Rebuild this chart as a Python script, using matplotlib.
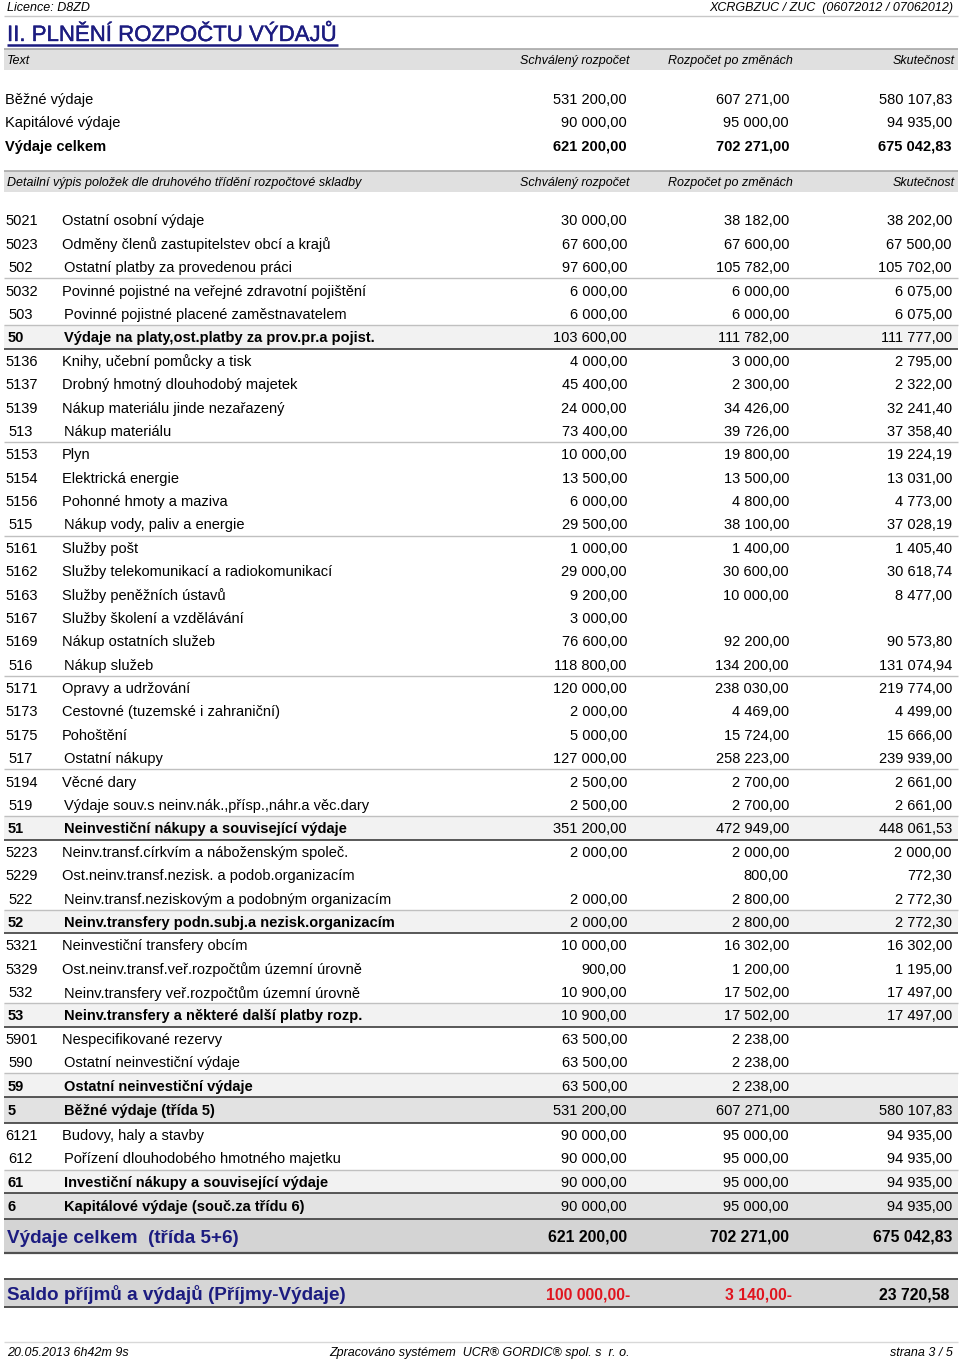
"""Plnění rozpočtu výdajů - table page recreated with matplotlib."""
import matplotlib
matplotlib.use("Agg")
import matplotlib.pyplot as plt
import matplotlib.patheffects as pe
from matplotlib.patches import Rectangle

plt.rcParams["font.family"] = ["Liberation Sans", "DejaVu Sans"]

# summary block
sum_labels = ["Běžné výdaje", "Kapitálové výdaje", "Výdaje celkem"]
sum_schval = [531200.00, 90000.00, 621200.00]
sum_zmeny = [607271.00, 95000.00, 702271.00]
sum_skut = [580107.83, 94935.00, 675042.83]

# detail rows: kind = item / sub / group / class (by code length)
codes = ["5021", "5023", "502", "5032", "503", "50",
         "5136", "5137", "5139", "513", "5153", "5154", "5156", "515",
         "5161", "5162", "5163", "5167", "5169", "516",
         "5171", "5173", "5175", "517", "5194", "519", "51",
         "5223", "5229", "522", "52", "5321", "5329", "532", "53",
         "5901", "590", "59", "5", "6121", "612", "61", "6"]
names = ["Ostatní osobní výdaje",
         "Odměny členů zastupitelstev obcí a krajů",
         "Ostatní platby za provedenou práci",
         "Povinné pojistné na veřejné zdravotní pojištění",
         "Povinné pojistné placené zaměstnavatelem",
         "Výdaje na platy,ost.platby za prov.pr.a pojist.",
         "Knihy, učební pomůcky a tisk",
         "Drobný hmotný dlouhodobý majetek",
         "Nákup materiálu jinde nezařazený",
         "Nákup materiálu",
         "Plyn",
         "Elektrická energie",
         "Pohonné hmoty a maziva",
         "Nákup vody, paliv a energie",
         "Služby pošt",
         "Služby telekomunikací a radiokomunikací",
         "Služby peněžních ústavů",
         "Služby školení a vzdělávání",
         "Nákup ostatních služeb",
         "Nákup služeb",
         "Opravy a udržování",
         "Cestovné (tuzemské i zahraniční)",
         "Pohoštění",
         "Ostatní nákupy",
         "Věcné dary",
         "Výdaje souv.s neinv.nák.,přísp.,náhr.a věc.dary",
         "Neinvestiční nákupy a související výdaje",
         "Neinv.transf.církvím a náboženským společ.",
         "Ost.neinv.transf.nezisk. a podob.organizacím",
         "Neinv.transf.neziskovým a podobným organizacím",
         "Neinv.transfery podn.subj.a nezisk.organizacím",
         "Neinvestiční transfery obcím",
         "Ost.neinv.transf.veř.rozpočtům územní úrovně",
         "Neinv.transfery veř.rozpočtům územní úrovně",
         "Neinv.transfery a některé další platby rozp.",
         "Nespecifikované rezervy",
         "Ostatní neinvestiční výdaje",
         "Ostatní neinvestiční výdaje",
         "Běžné výdaje (třída 5)",
         "Budovy, haly a stavby",
         "Pořízení dlouhodobého hmotného majetku",
         "Investiční nákupy a související výdaje",
         "Kapitálové výdaje (souč.za třídu 6)"]
schvaleny = [30000, 67600, 97600, 6000, 6000, 103600,
             4000, 45400, 24000, 73400, 10000, 13500, 6000, 29500,
             1000, 29000, 9200, 3000, 76600, 118800,
             120000, 2000, 5000, 127000, 2500, 2500, 351200,
             2000, None, 2000, 2000, 10000, 900, 10900, 10900,
             63500, 63500, 63500, 531200, 90000, 90000, 90000, 90000]
po_zmenach = [38182, 67600, 105782, 6000, 6000, 111782,
              3000, 2300, 34426, 39726, 19800, 13500, 4800, 38100,
              1400, 30600, 10000, None, 92200, 134200,
              238030, 4469, 15724, 258223, 2700, 2700, 472949,
              2000, 800, 2800, 2800, 16302, 1200, 17502, 17502,
              2238, 2238, 2238, 607271, 95000, 95000, 95000, 95000]
skutecnost = [38202, 67500, 105702, 6075, 6075, 111777,
              2795, 2322, 32241.40, 37358.40, 19224.19, 13031, 4773, 37028.19,
              1405.40, 30618.74, 8477, None, 90573.80, 131074.94,
              219774, 4499, 15666, 239939, 2661, 2661, 448061.53,
              2000, 772.30, 2772.30, 2772.30, 16302, 1195, 17497, 17497,
              None, None, None, 580107.83, 94935, 94935, 94935, 94935]

total_label = "Výdaje celkem  (třída 5+6)"
total_vals = [621200.00, 702271.00, 675042.83]
saldo_label = "Saldo příjmů a výdajů (Příjmy-Výdaje)"
saldo_vals = [-100000.00, -3140.00, 23720.58]


def kind_of(code):
    return {4: "item", 3: "sub", 2: "group", 1: "class"}[len(code)]


def fmt(v):
    if v is None:
        return ""
    s = f"{abs(v):,.2f}".replace(",", " ").replace(".", ",")
    return s + "-" if v < 0 else s


NAVY = "#1c1c80"
COLS = [627, 789, 952]
X0, X1 = 4, 958
DY = 1.5  # matplotlib centres a touch higher than the report

fig = plt.figure(figsize=(9.6, 13.61), dpi=100)
ax = fig.add_axes([0, 0, 1, 1])
ax.set_xlim(0, 960)
ax.set_ylim(1361, 0)
ax.axis("off")

# page header
ax.text(7, 7.5, "Licence: D8ZD", fontsize=9, style="italic", va="center")
ax.text(953, 7.5, "XCRGBZUC / ZUC  (06072012 / 07062012)", fontsize=9,
        style="italic", va="center", ha="right")
ax.hlines(16, X0, X1, color="#c8c8c8", lw=1)
title = ax.text(7, 35.5, "II. PLNĚNÍ ROZPOČTU VÝDAJŮ", fontsize=16,
                color=NAVY, va="center",
                path_effects=[pe.withStroke(linewidth=0.3, foreground=NAVY)])


def header_band(y0, y1, first):
    ax.add_patch(Rectangle((X0, y0), X1 - X0, y1 - y0, fc="#e0e0e0", ec="none"))
    ax.hlines(y0, X0, X1, color="#a8a8a8", lw=1.2)
    yc = (y0 + y1) / 2 + 1
    ax.text(7, yc, first, fontsize=9, style="italic", va="center")
    ax.text(630, yc, "Schválený rozpočet", fontsize=9, style="italic",
            va="center", ha="right")
    ax.text(668, yc, "Rozpočet po změnách", fontsize=9, style="italic",
            va="center")
    ax.text(955, yc, "Skutečnost", fontsize=9, style="italic",
            va="center", ha="right")


header_band(49, 70, "Text")

for i, lab in enumerate(sum_labels):
    y = 98 + i * 23.5 + DY
    w = "bold" if i == 2 else "normal"
    ax.text(5, y, lab, fontsize=10.5, va="center", weight=w)
    for x, v in zip(COLS, [sum_schval[i], sum_zmeny[i], sum_skut[i]]):
        ax.text(x, y, fmt(v), fontsize=10.5, va="center", ha="right", weight=w)

header_band(171, 192,
            "Detailní výpis položek dle druhového třídění rozpočtové skladby")

# detail rows
top = 208.3
for code, name, a, b, c in zip(codes, names, schvaleny, po_zmenach, skutecnost):
    k = kind_of(code)
    h = 26.0 if k == "class" else 23.38
    yc = top + h / 2 + DY
    if k == "group":
        ax.add_patch(Rectangle((X0, top), X1 - X0, h, fc="#f2f2f2", ec="none"))
    elif k == "class":
        ax.add_patch(Rectangle((X0, top), X1 - X0, h, fc="#e2e2e2", ec="none"))
    w = "bold" if k in ("group", "class") else "normal"
    cx, tx = (5, 62) if k == "item" else (8, 64)
    ax.text(cx, yc, code, fontsize=10.5, va="center", weight=w)
    ax.text(tx, yc, name, fontsize=10.5, va="center", weight=w)
    for x, v in zip(COLS, [a, b, c]):
        ax.text(x, yc, fmt(v), fontsize=10.5, va="center", ha="right")
    if k == "sub":
        ax.hlines(top + h, X0, X1, color="#c0c0c0", lw=1)
    elif k in ("group", "class"):
        ax.hlines(top + h, X0, X1, color="#3c3c3c", lw=1.2)
    top += h

# total row
h = 34.5
ax.add_patch(Rectangle((X0, top), X1 - X0, h, fc="#d4d4d4", ec="none"))
ax.hlines(top + h, X0, X1, color="#505050", lw=1.6)
yc = top + h / 2 + 2
ax.text(7, yc, total_label, fontsize=13.6, weight="bold", color=NAVY,
        va="center")
for x, v in zip(COLS, total_vals):
    ax.text(x, yc - 1, fmt(v), fontsize=11.3, weight="bold", va="center",
            ha="right")

# saldo row
s0, s1 = 1279, 1307
ax.add_patch(Rectangle((X0, s0), X1 - X0, s1 - s0, fc="#d6d6d6", ec="none"))
ax.hlines([s0, s1], X0, X1, color="#505050", lw=1.4)
yc = (s0 + s1) / 2 + 1.5
ax.text(7, yc, saldo_label, fontsize=13.6, weight="bold", color=NAVY,
        va="center")
for x, v in zip([630, 792, 949], saldo_vals):
    ax.text(x, yc + 1, fmt(v), fontsize=11.3, weight="bold", va="center",
            ha="right", color="#e0141e" if v < 0 else "black")

# footer
ax.hlines(1342, X0, X1, color="#d8d8d8", lw=1)
ax.text(7, 1353, "20.05.2013 6h42m 9s", fontsize=9, style="italic",
        va="center")
ax.text(480, 1353, "Zpracováno systémem  UCR® GORDIC® spol. s  r. o.",
        fontsize=9, style="italic", va="center", ha="center")
ax.text(953, 1353, "strana 3 / 5", fontsize=9, style="italic", va="center",
        ha="right")

# underline the title
fig.canvas.draw()
bb = title.get_window_extent().transformed(ax.transData.inverted())
ax.hlines(44.5, bb.x0, bb.x1, color=NAVY, lw=1.8)

fig.savefig("out.png", dpi=100)
